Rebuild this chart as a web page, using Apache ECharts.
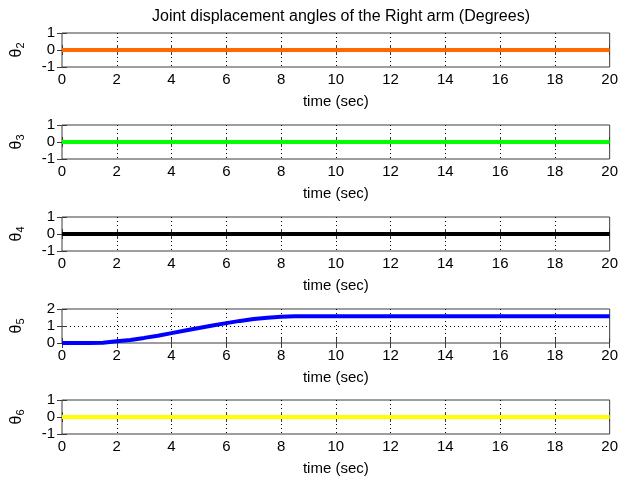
<!DOCTYPE html>
<html>
<head>
<meta charset="utf-8">
<script src="https://cdn.jsdelivr.net/npm/echarts@6/dist/echarts.min.js"></script>
<style>
  html, body { margin: 0; padding: 0; background: #ffffff; }
  #chart { width: 621px; height: 482px; }
</style>
</head>
<body>
<div id="chart"></div>
<script>
// Text
const chartTitle = 'Joint displacement angles of the Right arm (Degrees)';
const timeLabel = 'time (sec)';
const jointIndices = ['2', '3', '4', '5', '6'];

// Time axis ticks (seconds)
const timeMin = 0;
const timeMax = 20;
const timeStep = 2;

// Vertical ranges per joint panel
const yMins = [-1, -1, -1, 0, -1];
const yMaxs = [1, 1, 1, 2, 1];

// Joints that stay at rest
const restTime = [0, 20];
const theta2 = [0, 0];
const theta3 = [0, 0];
const theta4 = [0, 0];
const theta6 = [0, 0];

// Joint 5 moves from 0 to about pi/2 and then holds
const theta5Time = [0, 0.5, 1, 1.5, 2, 2.5, 3, 3.5, 4, 4.5, 5, 5.5, 6, 6.5, 7, 7.5, 8, 8.5, 9, 20];
const theta5 = [0, 0, 0.00, 0.02, 0.10, 0.18, 0.30, 0.43, 0.58, 0.73, 0.88, 1.03, 1.17, 1.30, 1.41, 1.49, 1.54, 1.57, 1.57, 1.57];

const seriesTimes = [restTime, restTime, restTime, theta5Time, restTime];
const seriesValues = [theta2, theta3, theta4, theta5, theta6];
const lineColors = ['#ff6a00', '#00ff00', '#000000', '#0000ff', '#ffff00'];

const panelTops = [33, 125, 217, 309, 400];
const panelHeight = 34;
const fontFamily = 'Liberation Sans, Arial, sans-serif';
const frameColor = '#3c3c3c';
const gridLine = { color: '#000000', width: 1, type: [1, 3] };

const grids = [], xAxes = [], yAxes = [], series = [];

panelTops.forEach((top, i) => {
  grids.push({
    left: 62, right: 10, top: top, height: panelHeight,
    show: true, borderColor: frameColor, borderWidth: 1, backgroundColor: '#ffffff'
  });

  // bottom time axis with labels and name
  xAxes.push({
    type: 'value', gridIndex: i, min: timeMin, max: timeMax, interval: timeStep,
    axisLine: { show: false },
    axisTick: { show: true, inside: true, length: 5, lineStyle: { color: frameColor } },
    axisLabel: { color: '#000', fontSize: 15, fontFamily: fontFamily, margin: 5 },
    splitLine: { show: true, showMinLine: false, showMaxLine: false, lineStyle: gridLine },
    name: timeLabel, nameLocation: 'middle', nameGap: 27,
    nameTextStyle: { color: '#000', fontSize: 15, fontFamily: fontFamily }
  });
  // top mirror axis for inner ticks
  xAxes.push({
    type: 'value', gridIndex: i, position: 'top', min: timeMin, max: timeMax, interval: timeStep,
    axisLine: { show: false },
    axisTick: { show: true, inside: true, length: 5, lineStyle: { color: frameColor } },
    axisLabel: { show: false }, splitLine: { show: false }
  });

  yAxes.push({
    type: 'value', gridIndex: i, min: yMins[i], max: yMaxs[i], interval: 1,
    axisLine: { show: false },
    axisTick: { show: true, inside: true, length: 5, lineStyle: { color: frameColor } },
    axisLabel: { color: '#000', fontSize: 15, fontFamily: fontFamily, margin: 7 },
    splitLine: { show: true, showMinLine: false, showMaxLine: false, lineStyle: gridLine },
    name: '{t|θ}{s|' + jointIndices[i] + '}', nameLocation: 'middle', nameRotate: 90, nameGap: 36,
    nameTextStyle: {
      color: '#000', fontFamily: fontFamily,
      rich: {
        t: { fontSize: 16, fontFamily: fontFamily, color: '#000' },
        s: { fontSize: 11, fontFamily: fontFamily, color: '#000', verticalAlign: 'bottom', padding: [8, 0, 0, 0] }
      }
    }
  });
  yAxes.push({
    type: 'value', gridIndex: i, position: 'right', min: yMins[i], max: yMaxs[i], interval: 1,
    axisLine: { show: false },
    axisTick: { show: true, inside: true, length: 5, lineStyle: { color: frameColor } },
    axisLabel: { show: false }, splitLine: { show: false }
  });

  series.push({
    type: 'line', xAxisIndex: 2 * i, yAxisIndex: 2 * i,
    data: seriesTimes[i].map((t, k) => [t, seriesValues[i][k]]),
    showSymbol: false, symbol: 'none', clip: false, z: 5,
    lineStyle: { color: lineColors[i], width: 4 },
    animation: false
  });
});

const chart = echarts.init(document.getElementById('chart'), null, { renderer: 'canvas' });
chart.setOption({
  backgroundColor: '#ffffff',
  animation: false,
  title: {
    text: chartTitle, left: 336, top: 4, textAlign: 'center',
    textStyle: { color: '#000', fontSize: 16, fontWeight: 'normal', fontFamily: fontFamily }
  },
  grid: grids,
  xAxis: xAxes,
  yAxis: yAxes,
  series: series
});
</script>
</body>
</html>
